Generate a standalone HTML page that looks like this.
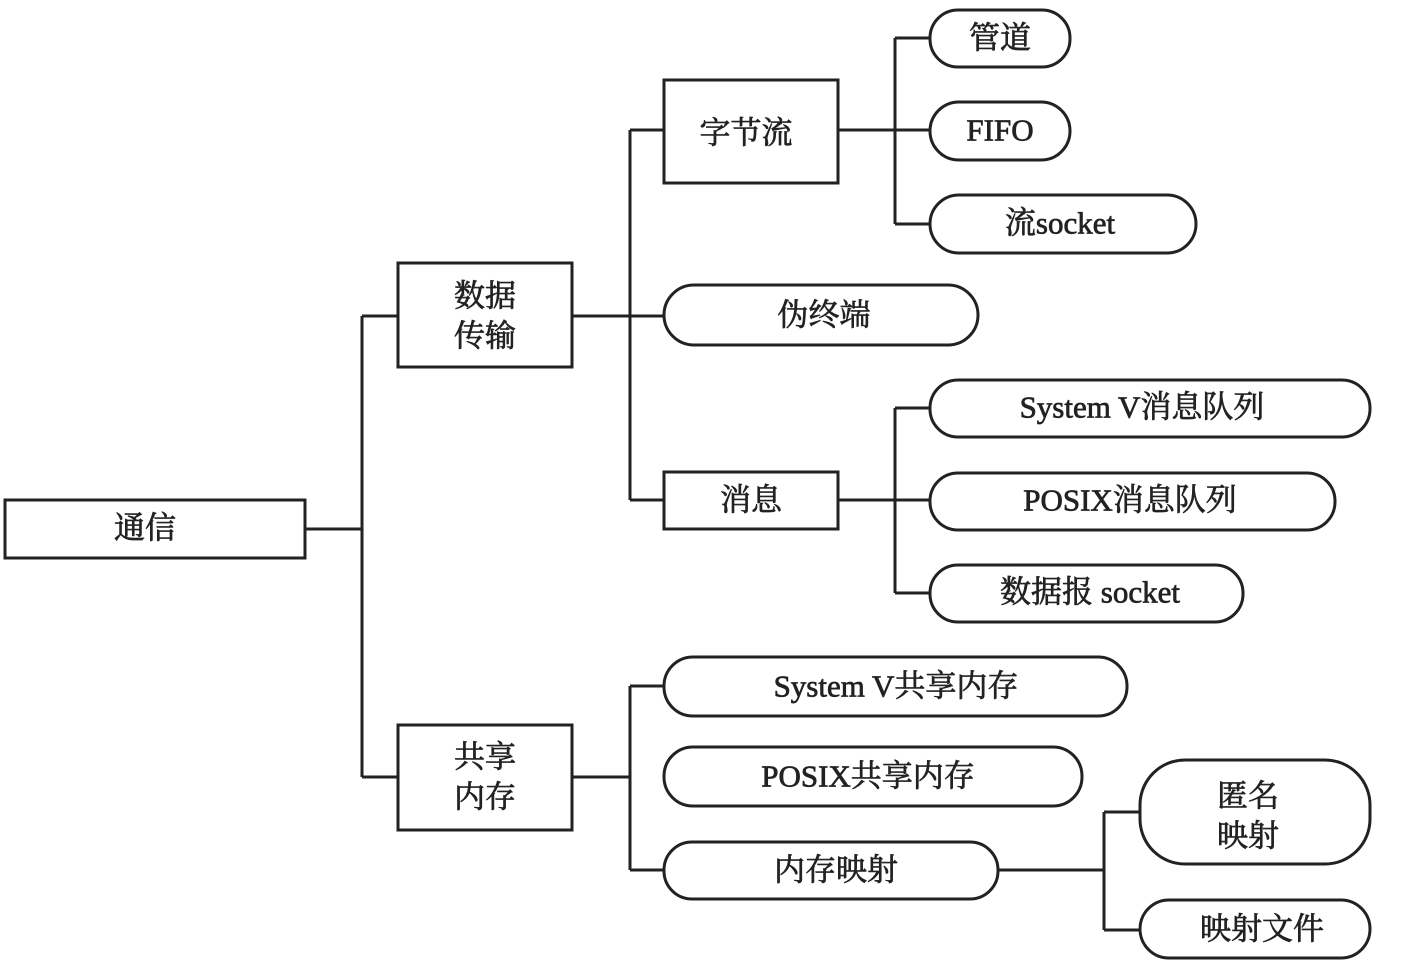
<!DOCTYPE html>
<html><head><meta charset="utf-8"><style>
html,body{margin:0;padding:0;background:#fff}
svg text{font-family:"Liberation Serif","Noto Serif CJK SC",serif;font-size:31px;fill:#222;stroke:#222;stroke-width:0.7;text-anchor:middle;dominant-baseline:central}
</style></head><body>
<svg width="1405" height="972" viewBox="0 0 1405 972" xmlns="http://www.w3.org/2000/svg">
<g fill="none" stroke="#222" stroke-width="3">
<path d="M305 529H362M362 316V777M362 316H398M362 777H398"/>
<path d="M572 316H664M630 130V500M630 130H664M630 500H664"/>
<path d="M572 777H630M630 686V870M630 686H664M630 870H664"/>
<path d="M838 130H930M895 38V224M895 38H930M895 224H930"/>
<path d="M838 500H930M895 408V593M895 408H930M895 593H930"/>
<path d="M998 870H1104M1104 812V930M1104 812H1140M1104 930H1140"/>
<rect x="5" y="500" width="300" height="58" fill="#fff"/>
<rect x="398" y="263" width="174" height="104" fill="#fff"/>
<rect x="398" y="725" width="174" height="105" fill="#fff"/>
<rect x="664" y="80" width="174" height="103" fill="#fff"/>
<rect x="664" y="472" width="174" height="57" fill="#fff"/>
<rect x="664" y="285" width="314" height="60" rx="30" fill="#fff"/>
<rect x="930" y="10" width="140" height="57" rx="28" fill="#fff"/>
<rect x="930" y="102" width="140" height="58" rx="29" fill="#fff"/>
<rect x="930" y="195" width="266" height="58" rx="29" fill="#fff"/>
<rect x="930" y="380" width="440" height="57" rx="28" fill="#fff"/>
<rect x="930" y="473" width="405" height="57" rx="28" fill="#fff"/>
<rect x="930" y="565" width="313" height="57" rx="28" fill="#fff"/>
<rect x="664" y="657" width="463" height="59" rx="29" fill="#fff"/>
<rect x="664" y="747" width="418" height="59" rx="29" fill="#fff"/>
<rect x="664" y="842" width="334" height="57" rx="28" fill="#fff"/>
<rect x="1140" y="760" width="230" height="104" rx="45" fill="#fff"/>
<rect x="1140" y="900" width="230" height="58" rx="29" fill="#fff"/>
</g>
<text x="145" y="528">通信</text>
<text x="485" y="296">数据</text><text x="485" y="336">传输</text>
<text x="485" y="757">共享</text><text x="485" y="797">内存</text>
<text x="746" y="133">字节流</text>
<text x="751" y="500">消息</text>
<text x="824" y="315">伪终端</text>
<text x="1000" y="38">管道</text>
<text x="1000" y="130">FIFO</text>
<text x="1060" y="223">流socket</text>
<text x="1142" y="407">System V消息队列</text>
<text x="1130" y="500">POSIX消息队列</text>
<text x="1090" y="592">数据报 socket</text>
<text x="896" y="686">System V共享内存</text>
<text x="868" y="776">POSIX共享内存</text>
<text x="836" y="870">内存映射</text>
<text x="1248" y="796">匿名</text><text x="1248" y="836">映射</text>
<text x="1262" y="929">映射文件</text>
</svg>
</body></html>
